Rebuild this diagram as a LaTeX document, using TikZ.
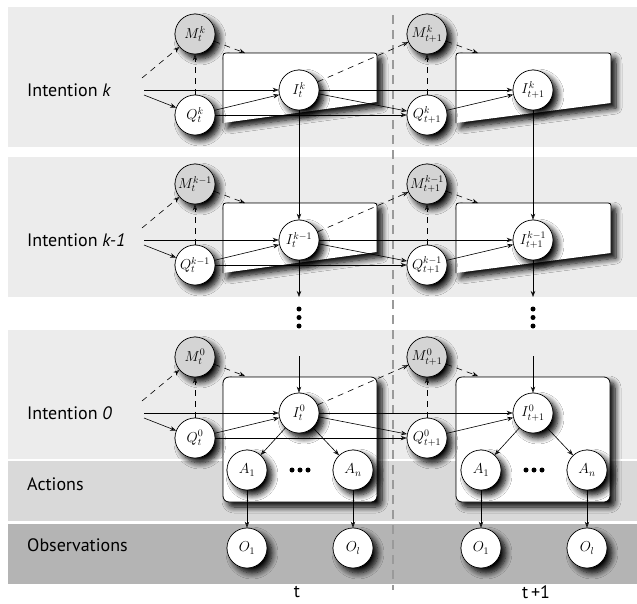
\documentclass[tikz,border=0pt]{standalone}
\usepackage{fontspec}
\setsansfont{PT Sans}
\usetikzlibrary{arrows.meta,shadows.blur}
\definecolor{bandlight}{HTML}{ECECEC}
\definecolor{bandact}{HTML}{D9D9D9}
\definecolor{bandobs}{HTML}{B4B4B4}
\definecolor{mgray}{HTML}{D4D4D4}
\definecolor{divgray}{HTML}{9A9A9A}
\tikzset{
  shad/.style={blur shadow={shadow xshift=5pt, shadow yshift=-5pt, shadow blur radius=6pt, shadow blur steps=8, shadow opacity=100}},
  rv/.style={circle, draw, fill=white, minimum size=40pt, inner sep=0pt, line width=0.7pt, font=\fontsize{14}{16}\selectfont, shad},
  mv/.style={rv, fill=mgray},
  arr/.style={-{Stealth[length=6pt,width=4.5pt]}, line width=0.6pt},
  darr/.style={arr, dash pattern=on 6pt off 5pt},
  lbl/.style={font=\sffamily\fontsize{18}{20}\selectfont, anchor=west, inner sep=0pt},
  tlbl/.style={font=\sffamily\fontsize{18}{20}\selectfont, inner sep=0pt},
  boxfill/.style={fill=white, shad},
  boxline/.style={line width=0.8pt},
  dotmark/.style={circle, fill=black, inner sep=0pt, minimum size=5pt},
}
\begin{document}
\begin{tikzpicture}[x=1pt,y=-1pt]
\useasboundingbox (0,0) rectangle (637,603);
% bands
\fill[bandlight] (8,7) rectangle (637,147);
\fill[bandlight] (8,157) rectangle (637,297);
\fill[bandlight] (8,330) rectangle (637,459);
\fill[bandact] (8,461) rectangle (637,521);
\fill[bandobs] (8,524) rectangle (637,584);
% band labels
\node[lbl] (labk) at (27,90) {Intention \textit{k}};
\node[lbl] (labk1) at (27,240) {Intention \textit{k-1}};
\node[lbl] (lab0) at (27,413) {Intention \textit{0}};
\node[lbl] (labA) at (27,484) {Actions};
\node[lbl] (labO) at (27,545) {Observations};
% time divider
\coordinate (divtop) at (393,15);
\coordinate (divbot) at (393,590);
\draw[divgray, line width=1.6pt, dash pattern=on 9pt off 6pt] (divtop) -- (divbot);
% slanted boxes for bands k and k-1
\foreach \T in {7,157}{
  \fill[boxfill] (223,\T+116) -- (223,\T+52) .. controls (223,\T+46) .. (229,\T+46) -- (371,\T+46) .. controls (377,\T+46) .. (377,\T+52) -- (377,\T+95) -- cycle;
  \draw[boxline] (223,\T+116) -- (223,\T+52) .. controls (223,\T+46) .. (229,\T+46) -- (371,\T+46) .. controls (377,\T+46) .. (377,\T+52) -- (377,\T+95);
  \fill[boxfill] (456,\T+116) -- (456,\T+52) .. controls (456,\T+46) .. (462,\T+46) -- (605,\T+46) .. controls (611,\T+46) .. (611,\T+52) -- (611,\T+96) -- cycle;
  \draw[boxline] (456,\T+116) -- (456,\T+52) .. controls (456,\T+46) .. (462,\T+46) -- (605,\T+46) .. controls (611,\T+46) .. (611,\T+52) -- (611,\T+96);
}
% full boxes for band 0
\draw[boxline, boxfill, rounded corners=6pt] (223,377) rectangle (377,502);
\draw[boxline, boxfill, rounded corners=6pt] (456,377) rectangle (610,502);
% intention bands
\foreach \T/\s/\n in {7/k/a,157/{k-1}/b,330/0/c}{
  \node[mv] (M\n) at (195,\T+27) {$M_t^{\s}$};
  \node[rv] (Q\n) at (195,\T+108) {$Q_t^{\s}$};
  \node[rv] (I\n) at (299,\T+83) {$I_t^{\s}$};
  \node[mv] (Mn\n) at (427,\T+27) {$M_{t+1}^{\s}$};
  \node[rv] (Qn\n) at (427,\T+108) {$Q_{t+1}^{\s}$};
  \node[rv] (In\n) at (533,\T+83) {$I_{t+1}^{\s}$};
  \coordinate (La\n) at (144,\T+83);
  \coordinate (Lb\n) at (144,\T+88);
  \coordinate (Lc\n) at (142,\T+71);
  \coordinate (Ba\n) at (245,\T+46);
  \coordinate (Bb\n) at (478,\T+46);
  \draw[arr] (La\n) -- (I\n);
  \draw[arr] (Lb\n) -- (Q\n);
  \draw[darr] (Lc\n) -- (M\n);
  \draw[darr] (Q\n) -- (M\n);
  \draw[arr] (Q\n) -- (I\n);
  \draw[arr] (Q\n) -- (Qn\n);
  \draw[arr] (I\n) -- (In\n);
  \draw[arr] (I\n) -- (Qn\n);
  \draw[darr] (I\n) -- (Mn\n);
  \draw[darr] (M\n) -- (Ba\n);
  \draw[darr] (Mn\n) -- (Bb\n);
  \draw[darr] (Qn\n) -- (Mn\n);
  \draw[arr] (Qn\n) -- (In\n);
}
% vertical links between intention levels
\draw[arr] (Ia) -- (Ib);
\draw[arr] (Ina) -- (Inb);
\coordinate (Da) at (299,297);
\coordinate (Dna) at (533,297);
\coordinate (Db) at (299,356);
\coordinate (Dnb) at (533,356);
\draw[arr] (Ib) -- (Da);
\draw[arr] (Inb) -- (Dna);
\draw[arr] (Db) -- (Ic);
\draw[arr] (Dnb) -- (Inc);
\foreach \x/\m in {299/a,533/b}{
  \node[dotmark] (vd1\m) at (\x,309) {};
  \node[dotmark] (vd2\m) at (\x,317.5) {};
  \node[dotmark] (vd3\m) at (\x,326) {};
}
% actions and observations
\foreach \x/\m/\I in {247/a/Ic,481/b/Inc}{
  \node[rv] (A1\m) at (\x,470) {$A_1$};
  \node[rv] (An\m) at (\x+106,470) {$A_n$};
  \node[rv] (O1\m) at (\x,548) {$O_1$};
  \node[rv] (Ol\m) at (\x+106,548) {$O_l$};
  \node[dotmark] (hd1\m) at (\x+45,470) {};
  \node[dotmark] (hd2\m) at (\x+53,470) {};
  \node[dotmark] (hd3\m) at (\x+61,470) {};
  \draw[arr] (\I) -- (A1\m);
  \draw[arr] (\I) -- (An\m);
  \draw[arr] (A1\m) -- (O1\m);
  \draw[arr] (An\m) -- (Ol\m);
}
% time labels
\node[tlbl] (tt) at (297,592) {t};
\node[tlbl] (tt1) at (536,592) {t\,+1};
\end{tikzpicture}
\end{document}
